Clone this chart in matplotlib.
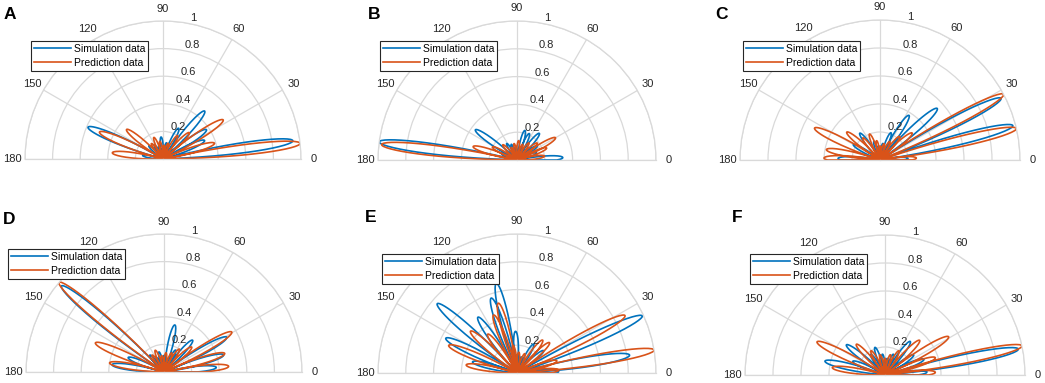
import numpy as np
import matplotlib.pyplot as plt

plt.rcParams['font.family'] = ['Liberation Sans', 'DejaVu Sans']

# lobe peaks: direction (deg) and normalised magnitude
A_sim_ang = [8, 24, 34, 49, 63, 78, 95, 108, 122, 137, 157, 170]
A_sim_mag = [0.95, 0.33, 0.38, 0.46, 0.25, 0.12, 0.16, 0.10, 0.12, 0.14, 0.59, 0.15]
A_pred_ang = [6.5, 17, 33, 45, 58, 72, 86, 100, 113, 127, 141, 157, 173]
A_pred_mag = [1.0, 0.39, 0.52, 0.27, 0.20, 0.12, 0.10, 0.13, 0.17, 0.14, 0.34, 0.50, 0.37]

B_sim_ang = [3, 20, 35, 50, 65, 75, 95, 110, 122, 144, 158, 172.5]
B_sim_mag = [0.33, 0.15, 0.18, 0.25, 0.21, 0.22, 0.10, 0.12, 0.14, 0.37, 0.12, 1.0]
B_pred_ang = [8, 22, 30, 40, 55, 70, 85, 100, 115, 133, 152, 163, 173.5]
B_pred_mag = [0.20, 0.23, 0.32, 0.19, 0.15, 0.12, 0.14, 0.12, 0.10, 0.15, 0.20, 0.33, 0.98]

C_sim_ang = [3, 14.5, 27, 42, 57, 68, 80, 95, 108, 127, 150, 178]
C_sim_mag = [0.20, 0.98, 0.97, 0.55, 0.38, 0.21, 0.12, 0.10, 0.14, 0.24, 0.22, 0.30]
C_pred_ang = [3, 13, 28, 40, 50, 62, 76, 88, 100, 112, 128, 140, 154, 169, 178]
C_pred_mag = [0.26, 1.0, 1.0, 0.30, 0.22, 0.15, 0.12, 0.10, 0.14, 0.20, 0.20, 0.31, 0.52, 0.39, 0.40]

D_sim_ang = [5, 16, 29, 48, 62, 77, 90, 104, 118, 130, 140, 158, 172]
D_sim_mag = [0.38, 0.45, 0.52, 0.31, 0.18, 0.35, 0.12, 0.15, 0.12, 0.16, 0.97, 0.28, 0.38]
D_pred_ang = [5, 17, 30.5, 42, 56, 68, 84, 98, 112, 125, 139.5, 157, 170.5]
D_pred_mag = [0.47, 0.46, 0.57, 0.27, 0.20, 0.15, 0.14, 0.12, 0.17, 0.15, 1.0, 0.54, 0.40]

E_sim_ang = [2, 9, 24.5, 40, 60, 75, 92, 103, 109, 125, 139, 154, 166]
E_sim_mag = [0.30, 0.82, 0.99, 0.25, 0.24, 0.12, 0.30, 0.66, 0.57, 0.49, 0.76, 0.57, 0.33]
E_pred_ang = [4, 9.5, 17, 28, 43, 52, 68, 85, 98, 105, 112, 127, 138, 158, 171]
E_pred_mag = [0.30, 1.0, 0.30, 0.88, 0.32, 0.30, 0.15, 0.15, 0.20, 0.52, 0.45, 0.35, 0.45, 0.53, 0.37]

F_sim_ang = [4, 11, 22, 35, 53, 68, 82, 97, 110, 125, 142, 157, 167]
F_sim_mag = [0.30, 0.97, 0.30, 0.25, 0.30, 0.16, 0.12, 0.15, 0.21, 0.18, 0.35, 0.25, 0.44]
F_pred_ang = [3, 12, 19, 31, 45, 60, 75, 90, 104, 120, 133, 154, 172]
F_pred_mag = [0.36, 1.0, 0.38, 0.53, 0.35, 0.20, 0.15, 0.12, 0.15, 0.20, 0.30, 0.54, 0.38]

panels = [
    ('A', A_sim_ang, A_sim_mag, A_pred_ang, A_pred_mag),
    ('B', B_sim_ang, B_sim_mag, B_pred_ang, B_pred_mag),
    ('C', C_sim_ang, C_sim_mag, C_pred_ang, C_pred_mag),
    ('D', D_sim_ang, D_sim_mag, D_pred_ang, D_pred_mag),
    ('E', E_sim_ang, E_sim_mag, E_pred_ang, E_pred_mag),
    ('F', F_sim_ang, F_sim_mag, F_pred_ang, F_pred_mag),
]

# layout in pixels: origin x, origin y (from top), radius; legend top-left; letter pos
origins = [(163, 159, 138), (517, 160, 139), (880, 160, 140),
           (164, 372, 138), (517, 373, 139), (885, 375, 140)]
legend_pos = [(31, 41), (380, 41), (743, 41), (8, 249), (382, 254), (750, 254)]
letter_pos = [(4, 7), (368, 7), (715, 7), (3, 212), (365, 210), (732, 210)]

blue = '#0072BD'
orange = '#D95319'
gridc = '#d9d9d9'
W, H = 1045, 383


def lobes(ang, mag):
    # each lobe drawn as a petal from the origin out to its peak and back
    th, r = [], []
    for c, p in sorted(zip(ang, mag)):
        hw = 5.5 + 4 * (1 - p)
        t = np.linspace(-1, 1, 61)
        tt = np.clip(c + t * hw, 0, 180)
        th.append(np.deg2rad(tt))
        r.append(p * np.cos(np.pi / 2 * t) ** 0.8)
    return np.concatenate(th), np.concatenate(r)


fig = plt.figure(figsize=(W / 100, H / 100), dpi=100)

for i, (name, sa, sm, pa, pm) in enumerate(panels):
    cx, cy, R = origins[i]
    # the half disc sits centred in a square box of side 2R
    top = cy - 1.5 * R
    ax = fig.add_axes([(cx - R) / W, (H - top - 2 * R) / H, 2 * R / W, 2 * R / H],
                      projection='polar')
    ax.set_thetamin(0)
    ax.set_thetamax(180)
    ax.set_ylim(0, 1)
    ax.set_thetagrids(range(0, 181, 30), labels=[''] * 7)
    ax.set_rgrids([0.2, 0.4, 0.6, 0.8, 1.0], labels=[''] * 5)
    ax.grid(color=gridc, lw=0.9)
    for s in ax.spines.values():
        s.set_color(gridc)
        s.set_linewidth(0.9)
    ax.tick_params(length=0)

    th, r = lobes(sa, sm)
    l1, = ax.plot(th, r, color=blue, lw=1.2, label='Simulation data')
    th, r = lobes(pa, pm)
    l2, = ax.plot(th, r, color=orange, lw=1.2, label='Prediction data')

    for a in range(0, 181, 30):
        ax.text(np.deg2rad(a), 1.09, str(a), ha='center', va='center',
                fontsize=8, color='#262626', clip_on=False)
    for v in [0.2, 0.4, 0.6, 0.8, 1.0]:
        ax.annotate('%g' % v, (np.deg2rad(80), v), xytext=(2, 0),
                    textcoords='offset points', ha='left', va='bottom',
                    fontsize=8, color='#262626', annotation_clip=False)

    lx, ly = legend_pos[i]
    leg = fig.legend(handles=[l1, l2], loc='upper left',
                     bbox_to_anchor=(lx / W, 1 - ly / H), fontsize=7.5,
                     fancybox=False, framealpha=1, edgecolor='#262626',
                     handlelength=3.5, handletextpad=0.3, borderpad=0.3,
                     labelspacing=0.35, borderaxespad=0)
    leg.get_frame().set_linewidth(0.8)

    px, py = letter_pos[i]
    fig.text(px / W, 1 - py / H, name, ha='left', va='top',
             fontsize=12.5, fontweight='bold')

fig.savefig('out.png', dpi=100)
